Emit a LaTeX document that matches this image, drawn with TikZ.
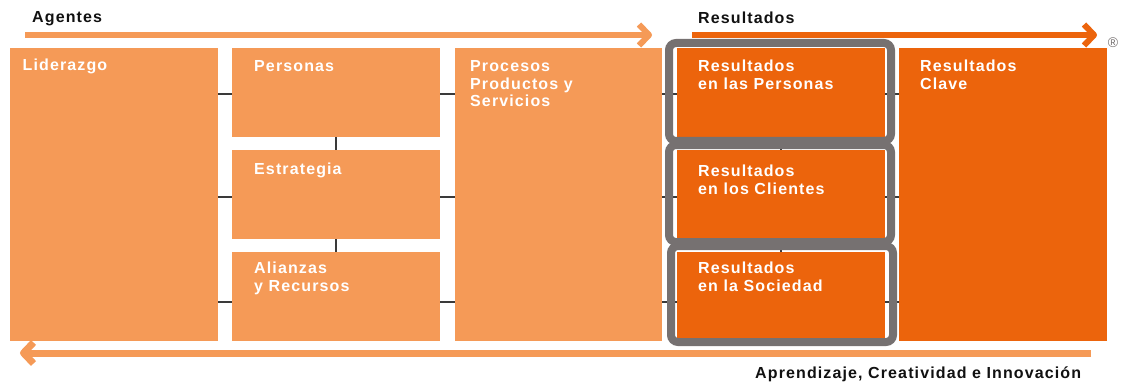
\documentclass[tikz,border=0pt]{standalone}
\usepackage{fontspec}
\setmainfont{Liberation Sans}[LetterSpace=7]
\usetikzlibrary{arrows.meta}
\definecolor{lightor}{HTML}{F59A57}
\definecolor{darkor}{HTML}{EC640C}
\definecolor{framegray}{HTML}{767171}
\definecolor{conngray}{HTML}{3A3A3A}
\definecolor{txtblack}{HTML}{111111}
\tikzset{
  box/.style={rectangle, inner sep=0pt, anchor=north west, draw=none},
  lbox/.style={box, fill=lightor},
  dbox/.style={box, fill=darkor},
  lbl/.style={inner sep=0pt, anchor=base west, align=left, text=white,
    font=\fontsize{16}{17.7}\selectfont\bfseries},
  head/.style={inner sep=0pt, anchor=base west, text=txtblack,
    font=\fontsize{16}{17.7}\selectfont\bfseries},
  conn/.style={draw=conngray, line width=2pt},
  frame/.style={draw=framegray, line width=8pt, rounded corners=7pt},
  flow/.style={line width=6pt, line join=round, -{Straight Barb[length=10pt,width=21pt,line join=round]}},
}
\begin{document}
\begin{tikzpicture}[x=1pt,y=-1pt]
\useasboundingbox (0,0) rectangle (1124,385);
% boxes
\node[lbox, minimum width=208pt, minimum height=293pt] (lid) at (10,48) {};
\node[lbox, minimum width=208pt, minimum height=89pt] (pers) at (232,48) {};
\node[lbox, minimum width=208pt, minimum height=89pt] (estr) at (232,150) {};
\node[lbox, minimum width=208pt, minimum height=89pt] (alia) at (232,252) {};
\node[lbox, minimum width=207pt, minimum height=293pt] (proc) at (455,48) {};
\node[dbox, minimum width=208pt, minimum height=89pt] (rpers) at (677,48) {};
\node[dbox, minimum width=208pt, minimum height=90pt] (rcli) at (677,150) {};
\node[dbox, minimum width=208pt, minimum height=89pt] (rsoc) at (677,252) {};
\node[dbox, minimum width=208pt, minimum height=293pt] (clave) at (899,48) {};
% connector rows
\coordinate (r1) at (0,94);
\coordinate (r2) at (0,197);
\coordinate (r3) at (0,302);
\draw[conn] (lid.east |- r1) -- (pers.west |- r1);
\draw[conn] (pers.east |- r1) -- (proc.west |- r1);
\draw[conn] (lid.east |- r2) -- (estr.west |- r2);
\draw[conn] (estr.east |- r2) -- (proc.west |- r2);
\draw[conn] (lid.east |- r3) -- (alia.west |- r3);
\draw[conn] (alia.east |- r3) -- (proc.west |- r3);
\draw[conn] (pers.south) -- (estr.north);
\draw[conn] (estr.south) -- (alia.north);
\draw[conn] (proc.east |- r1) -- (rpers.west |- r1);
\draw[conn] (rpers.east |- r1) -- (clave.west |- r1);
\draw[conn] (proc.east |- r2) -- (rcli.west |- r2);
\draw[conn] (rcli.east |- r2) -- (clave.west |- r2);
\draw[conn] (proc.east |- r3) -- (rsoc.west |- r3);
\draw[conn] (rsoc.east |- r3) -- (clave.west |- r3);
\draw[conn] (rpers.south) -- (rcli.north);
\draw[conn] (rcli.south) -- (rsoc.north);
% frames round the results
\draw[frame] (669,43) rectangle (891,141);
\draw[frame] (669,145) rectangle (891,242);
\draw[frame] (671,246) rectangle (893,342);
% labels in boxes
\node[lbl] (tlid) at (22.5,70.5) {Liderazgo};
\node[lbl] (tpers) at (254,71.5) {Personas};
\node[lbl] (testr) at (254,174.5) {Estrategia};
\node[lbl] (talia) at (254,291.2) {Alianzas\\y Recursos};
\node[lbl] (tproc) at (470,106.9) {Procesos\\Productos y\\Servicios};
\node[lbl] (trpers) at (698,89.2) {Resultados\\en las Personas};
\node[lbl] (trcli) at (698,194.2) {Resultados\\en los Clientes};
\node[lbl] (trsoc) at (698,291.2) {Resultados\\en la Sociedad};
\node[lbl] (tclave) at (920,89.2) {Resultados\\Clave};
% flow arrows
\coordinate (a1s) at (25,35);
\coordinate (a1e) at (652,35);
\coordinate (a2s) at (692,35);
\coordinate (a2e) at (1097,35);
\coordinate (a3s) at (1091,353);
\coordinate (a3e) at (20,353);
\draw[flow, draw=lightor] (a1s) -- (a1e);
\draw[flow, draw=darkor] (a2s) -- (a2e);
\draw[flow, draw=lightor, line width=7pt] (a3s) -- (a3e);
% headings
\node[head] (tag) at (32,22.5) {Agentes};
\node[head] (tres) at (698,23.5) {Resultados};
\node[head] (tapr) at (755,378.5) {Aprendizaje, Creatividad e Innovación};
\node[inner sep=0pt, text=framegray, font=\fontsize{14}{14}\selectfont] (reg) at (1113,43) {®};
\end{tikzpicture}
\end{document}
